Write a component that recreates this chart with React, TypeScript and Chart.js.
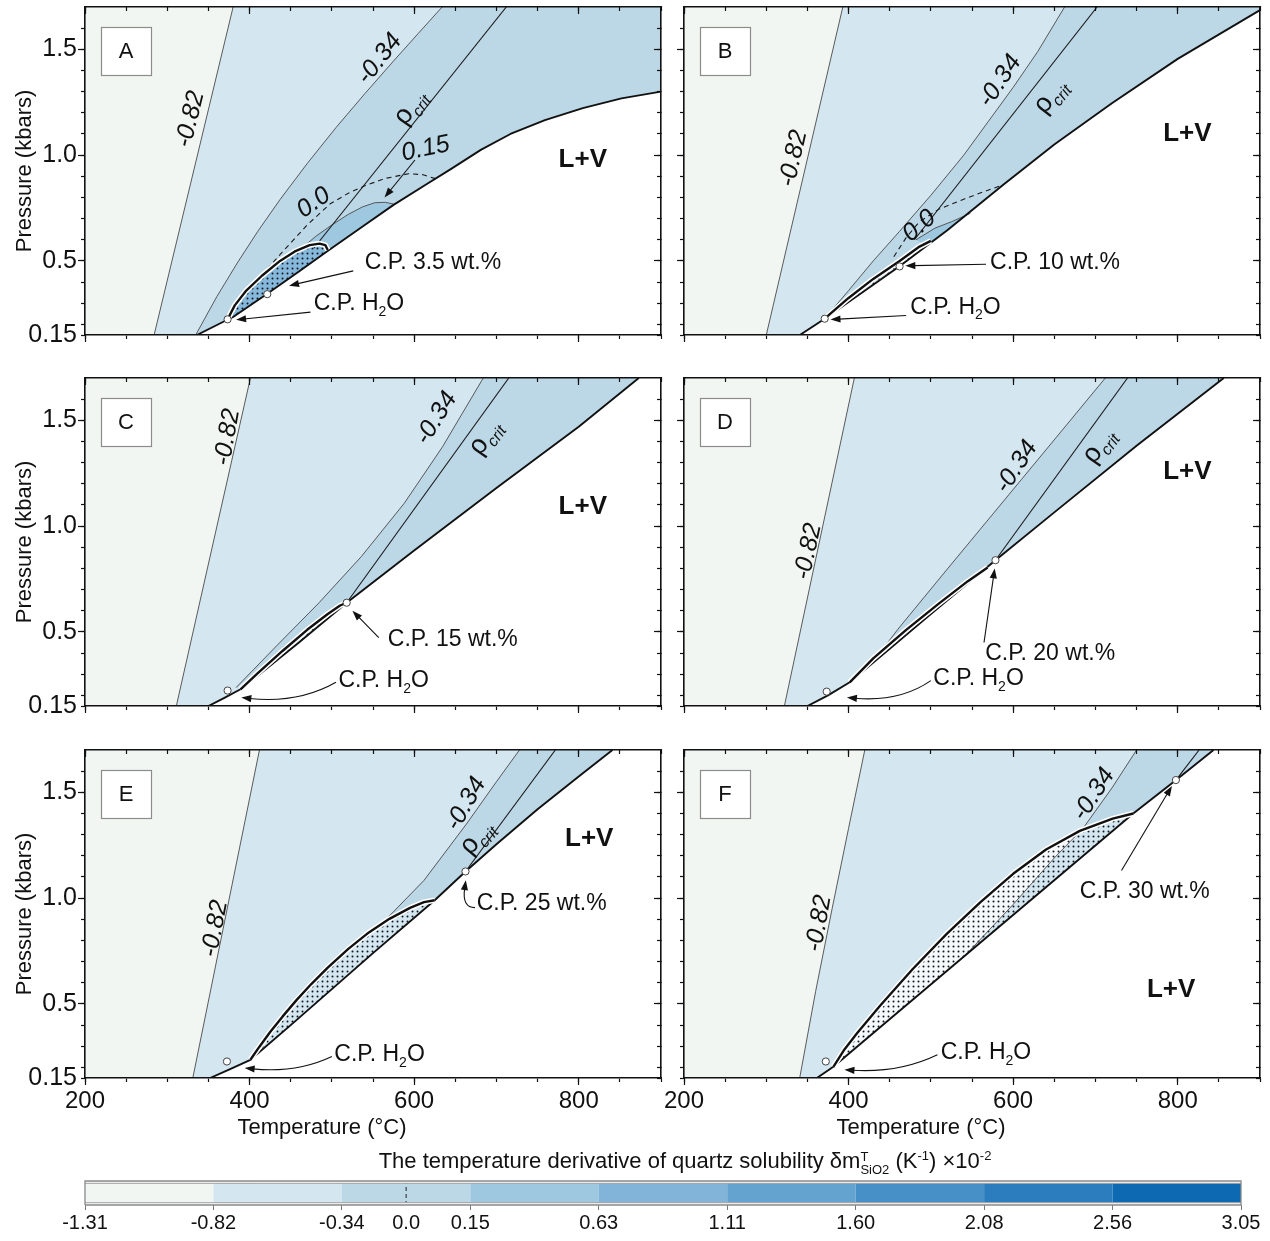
import React, { useEffect, useRef } from 'react';
import { Chart, registerables } from 'chart.js';

Chart.register(...registerables);

type P = [number, number];

const FONT = '"Liberation Sans", Arial, Helvetica, sans-serif';
Chart.defaults.font.family = FONT;

// ---------- axes ----------
const X_MIN = 200;
const X_MAX = 900;
const Y_MIN = 0.15;
const Y_MAX = 1.7;
const X_TICKS = [200, 250, 300, 350, 400, 450, 500, 550, 600, 650, 700, 750, 800, 850, 900];
const X_LABELED = [200, 400, 600, 800];
const Y_TICKS = [0.15, 0.2, 0.3, 0.4, 0.5, 0.6, 0.7, 0.8, 0.9, 1.0, 1.1, 1.2, 1.3, 1.4, 1.5, 1.6];
const Y_MAJOR = [0.5, 1.0, 1.5];
const Y_LABELED = [0.15, 0.5, 1.0, 1.5];
const Y_LABEL_TEXT = ['0.15', '0.5', '1.0', '1.5'];

// ---------- colour scale ----------
const CB_COLORS = ['#f1f6f3', '#d4e6ef', '#bcd7e6', '#9ec7e0', '#82b4d9', '#64a2d0', '#4690c7', '#2b7dbd', '#0d69b1'];
const CB_POS = [0, 1, 2, 2.5, 3, 4, 5, 6, 7, 8, 9];
const CB_LABELS = ['-1.31', '-0.82', '-0.34', '0.0', '0.15', '0.63', '1.11', '1.60', '2.08', '2.56', '3.05'];

// ---------- panel A (T °C, P kbar) ----------
const A_M082: P[] = [[284, 0.15], [332, 0.925], [380, 1.7]];
const A_M034: P[] = [[334.5, 0.15], [360, 0.33], [385, 0.49], [410, 0.64], [437, 0.79], [470, 0.96], [505, 1.13], [540, 1.29], [575, 1.445], [605, 1.575], [634, 1.7]];
const A_RHO: P[] = [[478, 0.56], [712, 1.7]];
const A_BOUND: P[] = [[336, 0.15], [373, 0.222], [380, 0.235], [421.5, 0.345], [460, 0.45], [494, 0.545], [540, 0.67], [575, 0.765], [614, 0.86], [645, 0.935], [681, 1.025], [717, 1.1], [759, 1.165], [805, 1.222], [852, 1.268], [900, 1.3]];
const A_C015: P[] = [[462, 0.555], [480, 0.615], [500, 0.67], [520, 0.72], [537, 0.755], [552, 0.775], [565, 0.777], [576, 0.768]];
const A_C3: P[] = [...A_C015, [540, 0.67], [494, 0.545], [470, 0.5]];
const A_DASH: P[] = [[378, 0.27], [400, 0.365], [437, 0.53], [470, 0.67], [498, 0.77], [520, 0.82], [540, 0.855], [565, 0.89], [593, 0.912], [610, 0.908], [626, 0.889]];
const A_LENS_U: P[] = [[373, 0.222], [382, 0.29], [396, 0.36], [415, 0.43], [437, 0.5], [455, 0.545], [473, 0.575], [485, 0.582], [492, 0.575], [495, 0.552]];
const A_LENS_L: P[] = [[494, 0.545], [460, 0.45], [421.5, 0.345], [380, 0.235], [373, 0.222]];
const A_CP: P[] = [[373.3, 0.224], [421.5, 0.343]];

// ---------- panel B ----------
const B_M082: P[] = [[300, 0.15], [346.5, 0.925], [393, 1.7]];
const B_M034: P[] = [[371, 0.227], [400, 0.36], [430, 0.5], [462, 0.64], [500, 0.81], [540, 1.0], [570, 1.16], [600, 1.32], [630, 1.49], [662.5, 1.7]];
const B_RHO: P[] = [[480, 0.6], [702, 1.7]];
const B_BOUND: P[] = [[340.8, 0.15], [371, 0.227], [420, 0.36], [462, 0.475], [520, 0.645], [588, 0.86], [650, 1.05], [720, 1.245], [800, 1.455], [900, 1.685]];
const B_C015: P[] = [[482, 0.6], [505, 0.655], [525, 0.685], [548, 0.725]];
const B_C3: P[] = [...B_C015, [520, 0.645], [495, 0.57]];
const B_DASH: P[] = [[455, 0.52], [470, 0.61], [486, 0.685], [510, 0.745], [540, 0.792], [565, 0.828], [588, 0.86]];
const B_LENS_U: P[] = [[371, 0.227], [400, 0.325], [430, 0.415], [462, 0.5], [485, 0.565], [500, 0.595]];
const B_LENS_L: P[] = [[500, 0.586], [462, 0.475], [420, 0.36], [371, 0.227]];
const B_CP: P[] = [[371, 0.227], [462, 0.474]];

// ---------- panel C ----------
const C_M082: P[] = [[311, 0.15], [356, 0.925], [401, 1.7]];
const C_M034: P[] = [[383.6, 0.237], [432.8, 0.434], [484.5, 0.638], [536, 0.857], [588, 1.108], [634.5, 1.375], [684, 1.7]];
const C_RHO: P[] = [[518, 0.638], [715, 1.7]];
const C_BOUND: P[] = [[350, 0.15], [370, 0.19], [389, 0.229], [420, 0.325], [460, 0.45], [518, 0.638], [600, 0.885], [700, 1.18], [800, 1.47], [873, 1.7]];
const C_LENS_U: P[] = [[389, 0.229], [410, 0.305], [440, 0.41], [470, 0.51], [495, 0.585], [510, 0.625], [518, 0.638]];
const C_LENS_L: P[] = [[518, 0.638], [460, 0.45], [420, 0.325], [389, 0.229]];
const C_CP: P[] = [[373.3, 0.223], [518, 0.638]];

// ---------- panel D ----------
const D_M082: P[] = [[322, 0.15], [364.5, 0.925], [407, 1.7]];
const D_M034: P[] = [[430, 0.36], [460, 0.513], [510, 0.75], [560, 0.985], [610, 1.22], [660, 1.455], [712, 1.7]];
const D_RHO: P[] = [[578.5, 0.839], [739, 1.7]];
const D_BOUND: P[] = [[350, 0.15], [375, 0.2], [401.4, 0.262], [450, 0.42], [500, 0.585], [578.5, 0.839], [650, 1.065], [750, 1.38], [856, 1.7]];
const D_LENS_U: P[] = [[401.4, 0.262], [430, 0.375], [470, 0.51], [510, 0.635], [545, 0.74], [569, 0.805]];
const D_LENS_L: P[] = [[569, 0.806], [500, 0.585], [450, 0.42], [401.4, 0.262]];
const D_CP: P[] = [[373.4, 0.218], [578.5, 0.839]];

// ---------- panel E ----------
const E_M082: P[] = [[331, 0.15], [371.5, 0.925], [412, 1.7]];
const E_M034: P[] = [[563, 0.888], [612, 1.084], [663.5, 1.35], [700, 1.55], [728, 1.7]];
const E_RHO: P[] = [[662.4, 1.126], [771.6, 1.7]];
const E_BOUND: P[] = [[352, 0.15], [375, 0.19], [401, 0.236], [450, 0.4], [500, 0.57], [550, 0.74], [625, 0.99], [662.4, 1.126], [700, 1.255], [750, 1.42], [800, 1.575], [841, 1.7]];
const E_LENS_U: P[] = [[401, 0.236], [412, 0.298], [425, 0.367], [440, 0.44], [457, 0.518], [475, 0.594], [495, 0.672], [520, 0.76], [545, 0.838], [570, 0.902], [595, 0.954], [612, 0.981], [625, 0.99]];
const E_LENS_L: P[] = [[625, 0.99], [550, 0.74], [500, 0.57], [450, 0.4], [401, 0.236]];
const E_CP: P[] = [[372.5, 0.228], [662.4, 1.126]];

// ---------- panel F ----------
const F_M082: P[] = [[340.6, 0.15], [360, 0.56], [380, 0.95], [400, 1.33], [419.7, 1.7]];
const F_M034: P[] = [[540, 0.722], [600, 0.97], [650, 1.19], [685, 1.33], [720, 1.52], [750, 1.7]];
const F_RHO: P[] = [[797.8, 1.558], [826, 1.7]];
const F_BOUND: P[] = [[361.5, 0.15], [381.5, 0.203], [560, 0.789], [746, 1.4], [798, 1.558], [843.5, 1.7]];
const F_LENS_U: P[] = [[381.5, 0.203], [395, 0.285], [410, 0.36], [438, 0.49], [478, 0.665], [519, 0.83], [560, 0.98], [600, 1.115], [640, 1.23], [681, 1.318], [721, 1.376], [746, 1.4]];
const F_LENS_L: P[] = [[746, 1.4], [560, 0.789], [381.5, 0.203]];
const F_LENS_SUB: P[] = [[540, 0.722], [600, 0.97], [650, 1.19], [685, 1.324], [721, 1.376], [746, 1.4]];
const F_CP: P[] = [[372.3, 0.228], [797.8, 1.558]];

// ---------- layout ----------
const PLOT_W = 576;
const PLOT_H = 328;
const COL_LEFT = [85, 684];
const ROW_TOP = [7, 378, 750];

type Seg = { t: string; sub?: boolean; italic?: boolean };
type Lbl = { segs: Seg[]; x: number; y: number; rot?: number; size: number; italic?: boolean; bold?: boolean; align?: 'left' | 'center' };

const contour = (t: string, x: number, y: number, rot: number): Lbl => ({ segs: [{ t }], x, y, rot, size: 25, italic: true });
const rhoLbl = (x: number, y: number, rot: number): Lbl => ({ segs: [{ t: 'ρ', italic: false }, { t: 'crit', sub: true, italic: true }], x, y, rot, size: 27 });
const lvLbl = (x: number, y: number): Lbl => ({ segs: [{ t: 'L+V' }], x, y, size: 26, bold: true });
const cpLbl = (t: string, x: number, y: number): Lbl => ({ segs: [{ t }], x, y, size: 23, align: 'left' });
const h2oLbl = (x: number, y: number): Lbl => ({ segs: [{ t: 'C.P. H' }, { t: '2', sub: true }, { t: 'O' }], x, y, size: 23, align: 'left' });

interface Spec {
  letter: string; col: number; row: number;
  m082: P[]; m034: P[]; rho: P[]; boundary: P[]; lensU: P[]; lensL: P[]; cp: P[];
  dash?: P[]; c015?: P[]; c3?: P[]; lensFill: string; lensSub?: P[];
  labels: Lbl[]; arrows: P[][];
}

const PANELS: Spec[] = [
  {
    letter: 'A', col: 0, row: 0, m082: A_M082, m034: A_M034, rho: A_RHO, boundary: A_BOUND, lensU: A_LENS_U, lensL: A_LENS_L, cp: A_CP,
    dash: A_DASH, c015: A_C015, c3: A_C3, lensFill: '#86b8dc',
    labels: [contour('-0.82', 328, 1.17, -76), contour('-0.34', 558, 1.455, -52), rhoLbl(595, 1.227, -55), contour('0.15', 614, 1.03, -12),
      contour('0.0', 478, 0.775, -35), lvLbl(805, 0.977), cpLbl('C.P. 3.5 wt.%', 540, 0.492), h2oLbl(478, 0.297)],
    arrows: [[[526, 0.453], [448, 0.383]], [[474, 0.258], [383.6, 0.222]], [[601, 0.977], [564, 0.8]]],
  },
  {
    letter: 'B', col: 1, row: 0, m082: B_M082, m034: B_M034, rho: B_RHO, boundary: B_BOUND, lensU: B_LENS_U, lensL: B_LENS_L, cp: B_CP,
    dash: B_DASH, c015: B_C015, c3: B_C3, lensFill: CB_COLORS[1],
    labels: [contour('-0.82', 333, 0.984, -77), contour('-0.34', 584, 1.35, -56), rhoLbl(645, 1.28, -52), contour('0.0', 486, 0.665, -40),
      lvLbl(811.7, 1.1), cpLbl('C.P. 10 wt.%', 572, 0.492), h2oLbl(475, 0.281)],
    arrows: [[[567, 0.484], [469, 0.477]], [[470, 0.242], [378, 0.223]]],
  },
  {
    letter: 'C', col: 0, row: 1, m082: C_M082, m034: C_M034, rho: C_RHO, boundary: C_BOUND, lensU: C_LENS_U, lensL: C_LENS_L, cp: C_CP,
    lensFill: CB_COLORS[1],
    labels: [contour('-0.82', 373, 1.42, -80), contour('-0.34', 627, 1.51, -58), rhoLbl(686, 1.42, -55), lvLbl(805, 1.09),
      cpLbl('C.P. 15 wt.%', 568, 0.462), h2oLbl(508, 0.27)],
    arrows: [[[557, 0.473], [525, 0.6]], [[505, 0.262], [458.7, 0.16], [390, 0.19]]],
  },
  {
    letter: 'D', col: 1, row: 1, m082: D_M082, m034: D_M034, rho: D_RHO, boundary: D_BOUND, lensU: D_LENS_U, lensL: D_LENS_L, cp: D_CP,
    lensFill: CB_COLORS[1],
    labels: [contour('-0.82', 351, 0.88, -78), contour('-0.34', 604, 1.28, -57), rhoLbl(704, 1.38, -55), lvLbl(811.7, 1.257),
      cpLbl('C.P. 20 wt.%', 566, 0.395), h2oLbl(503, 0.278)],
    arrows: [[[564.6, 0.45], [577.6, 0.8]], [[500, 0.27], [462, 0.168], [398, 0.19]]],
  },
  {
    letter: 'E', col: 0, row: 2, m082: E_M082, m034: E_M034, rho: E_RHO, boundary: E_BOUND, lensU: E_LENS_U, lensL: E_LENS_L, cp: E_CP,
    lensFill: CB_COLORS[1],
    labels: [contour('-0.82', 358, 0.856, -79), contour('-0.34', 663, 1.445, -60), rhoLbl(676, 1.288, -50), lvLbl(812.8, 1.28),
      cpLbl('C.P. 25 wt.%', 676, 0.974), h2oLbl(503, 0.26)],
    arrows: [[[674, 0.955], [658, 0.955], [662.8, 1.085]], [[500, 0.252], [457.5, 0.173], [394, 0.197]]],
  },
  {
    letter: 'F', col: 1, row: 2, m082: F_M082, m034: F_M034, rho: F_RHO, boundary: F_BOUND, lensU: F_LENS_U, lensL: F_LENS_L, cp: F_CP,
    lensFill: '#f4f8fa', lensSub: F_LENS_SUB,
    labels: [contour('-0.82', 364, 0.88, -80), contour('-0.34', 698, 1.49, -57), lvLbl(792, 0.566),
      cpLbl('C.P. 30 wt.%', 681, 1.029), h2oLbl(512, 0.268)],
    arrows: [[[731.7, 1.131], [793, 1.53]], [[508, 0.26], [461.6, 0.173], [395, 0.189]]],
  },
];

// ---------- drawing helpers ----------
function drawRich(ctx: CanvasRenderingContext2D, l: Lbl, px: number, py: number) {
  ctx.save();
  ctx.translate(px, py);
  if (l.rot) ctx.rotate((l.rot * Math.PI) / 180);
  const fontOf = (s: Seg) => {
    const it = s.italic !== undefined ? s.italic : l.italic;
    const size = s.sub ? Math.round(l.size * 0.6) : l.size;
    return `${it ? 'italic ' : ''}${l.bold ? 'bold ' : ''}${size}px ${FONT}`;
  };
  let w = 0;
  for (const s of l.segs) {
    ctx.font = fontOf(s);
    w += ctx.measureText(s.t).width;
  }
  let x = l.align === 'left' ? 0 : -w / 2;
  ctx.textBaseline = 'middle';
  ctx.textAlign = 'left';
  ctx.fillStyle = '#111';
  for (const s of l.segs) {
    ctx.font = fontOf(s);
    ctx.fillText(s.t, x, s.sub ? l.size * 0.36 : 0);
    x += ctx.measureText(s.t).width;
  }
  ctx.restore();
}

function drawArrow(ctx: CanvasRenderingContext2D, p: number[][]) {
  const end = p[p.length - 1];
  const prev = p.length === 3 ? p[1] : p[0];
  const ang = Math.atan2(end[1] - prev[1], end[0] - prev[0]);
  const L = 10;
  const W = 3.6;
  const bx = end[0] - (L - 2) * Math.cos(ang);
  const by = end[1] - (L - 2) * Math.sin(ang);
  ctx.beginPath();
  ctx.moveTo(p[0][0], p[0][1]);
  if (p.length === 3) ctx.quadraticCurveTo(p[1][0], p[1][1], bx, by);
  else ctx.lineTo(bx, by);
  ctx.stroke();
  ctx.beginPath();
  ctx.moveTo(end[0], end[1]);
  ctx.lineTo(end[0] - L * Math.cos(ang) + W * Math.sin(ang), end[1] - L * Math.sin(ang) - W * Math.cos(ang));
  ctx.lineTo(end[0] - L * Math.cos(ang) - W * Math.sin(ang), end[1] - L * Math.sin(ang) + W * Math.cos(ang));
  ctx.closePath();
  ctx.fill();
}

const toXY = (p: P[]) => p.map(([x, y]) => ({ x, y }));

function buildDatasets(s: Spec, pattern: any) {
  const ds: any[] = [];
  const poly = (p: P[], color: any) => ds.push({ data: toXY(p), fill: 'shape', backgroundColor: color, borderWidth: 0, pointRadius: 0 });
  const line = (p: P[], color: string, width: number, dash: number[] = []) =>
    ds.push({ data: toXY(p), fill: false, borderColor: color, borderWidth: width, borderDash: dash, pointRadius: 0 });

  poly([[X_MIN, Y_MIN], [X_MIN, Y_MAX], [X_MAX, Y_MAX], [X_MAX, Y_MIN]], CB_COLORS[0]);
  poly([...s.m082, [X_MAX, Y_MAX], [X_MAX, Y_MIN]], CB_COLORS[1]);
  poly([...s.m034, [X_MAX, Y_MAX], [X_MAX, Y_MIN]], CB_COLORS[2]);
  if (s.c3) poly(s.c3, CB_COLORS[3]);
  const last = s.boundary[s.boundary.length - 1];
  const tail: P[] = last[0] < X_MAX ? [[X_MAX, Y_MAX], [X_MAX, Y_MIN]] : [[X_MAX, Y_MIN]];
  poly([...s.boundary, ...tail], '#ffffff');
  const lens = [...s.lensU, ...s.lensL];
  poly(lens, s.lensFill);
  if (s.lensSub) poly(s.lensSub, CB_COLORS[1]);
  poly(lens, pattern);
  line(s.m082, '#4a4a4a', 0.9);
  line(s.m034, '#4a4a4a', 0.9);
  if (s.c015) line(s.c015, '#4a4a4a', 0.9);
  line(s.rho, '#1a1a1a', 1.1);
  if (s.dash) line(s.dash, '#1a1a1a', 1.1, [5, 4]);
  line(s.boundary, '#111111', 1.9);
  line(s.lensU, '#ffffff', 5.5);
  line(s.lensU, '#111111', 2.4);
  ds.push({ data: toXY(s.cp), showLine: false, pointRadius: 3.6, pointBackgroundColor: '#ffffff', pointBorderColor: '#444', pointBorderWidth: 1 });
  const n = ds.length;
  ds.forEach((d, i) => { d.order = n - i; });
  return ds;
}

function zeroPad(sc: any) {
  sc.paddingLeft = 0; sc.paddingRight = 0; sc.paddingTop = 0; sc.paddingBottom = 0;
}

const GRID_BASE = { display: true, drawOnChartArea: false, drawTicks: true, tickColor: '#111', tickWidth: 1.2, z: 2 };

function xAxis(position: string, labels: boolean, size: number) {
  return {
    type: 'linear', position, min: X_MIN, max: X_MAX,
    afterBuildTicks: (sc: any) => { sc.ticks = X_TICKS.map((v) => ({ value: v })); },
    afterFit: (sc: any) => { sc.height = size; zeroPad(sc); },
    ticks: {
      display: labels, autoSkip: false, maxRotation: 0, minRotation: 0, padding: 5, color: '#111',
      font: { family: FONT, size: 24 },
      callback: (v: number) => (X_LABELED.includes(v) ? String(v) : ''),
    },
    grid: { ...GRID_BASE, tickLength: position === 'top' ? -4 : 4 },
    border: { display: true, color: '#111', width: 1.6, z: 2 },
  };
}

function yAxis(position: string, labels: boolean, size: number, title: boolean) {
  return {
    type: 'linear', position, min: Y_MIN, max: Y_MAX,
    afterBuildTicks: (sc: any) => { sc.ticks = Y_TICKS.map((v) => ({ value: v })); },
    afterFit: (sc: any) => { sc.width = size; zeroPad(sc); },
    ticks: {
      display: labels, autoSkip: false, padding: 4, color: '#111',
      font: { family: FONT, size: 25 },
      callback: (v: number) => {
        const i = Y_LABELED.findIndex((u) => Math.abs(u - v) < 1e-6);
        return i >= 0 ? Y_LABEL_TEXT[i] : '';
      },
    },
    grid: { ...GRID_BASE, tickLength: position === 'right' ? -4 : 4 },
    border: { display: true, color: '#111', width: 1.6, z: 2 },
    title: { display: title, text: 'Pressure (kbars)', color: '#111', font: { family: FONT, size: 22 }, padding: { top: 12, bottom: 0 } },
  };
}

// longer major tick marks, drawn by axes pinned onto the frame edges
function majorX(yv: number) {
  return {
    type: 'linear', axis: 'x', position: { y: yv }, min: X_MIN, max: X_MAX,
    afterBuildTicks: (sc: any) => { sc.ticks = X_LABELED.map((v) => ({ value: v })); },
    afterFit: (sc: any) => { sc.height = 0; zeroPad(sc); },
    ticks: { display: false },
    grid: { ...GRID_BASE, tickLength: 7 },
    border: { display: false },
  };
}
function majorY(xv: number) {
  return {
    type: 'linear', axis: 'y', position: { x: xv }, min: Y_MIN, max: Y_MAX,
    afterBuildTicks: (sc: any) => { sc.ticks = Y_MAJOR.map((v) => ({ value: v })); },
    afterFit: (sc: any) => { sc.width = 0; zeroPad(sc); },
    ticks: { display: false },
    grid: { ...GRID_BASE, tickLength: 7 },
    border: { display: false },
  };
}

function annotPlugin(s: Spec, showXTitle: boolean) {
  return {
    id: 'annot' + s.letter,
    afterDraw(chart: any) {
      const ctx: CanvasRenderingContext2D = chart.ctx;
      const xs = chart.scales.x;
      const ys = chart.scales.y;
      const a = chart.chartArea;
      const px = (x: number) => xs.getPixelForValue(x);
      const py = (y: number) => ys.getPixelForValue(y);
      ctx.save();
      ctx.strokeStyle = '#111';
      ctx.fillStyle = '#111';
      ctx.lineWidth = 1.1;
      for (const ar of s.arrows) drawArrow(ctx, ar.map(([x, y]) => [px(x), py(y)]));
      for (const l of s.labels) drawRich(ctx, l, px(l.x), py(l.y));
      const bx = a.left + 16;
      const by = a.top + 20;
      ctx.fillStyle = '#ffffff';
      ctx.fillRect(bx, by, 50, 48);
      ctx.strokeStyle = '#8c8c8c';
      ctx.lineWidth = 1.2;
      ctx.strokeRect(bx + 0.5, by + 0.5, 50, 48);
      ctx.fillStyle = '#111';
      ctx.font = `22px ${FONT}`;
      ctx.textAlign = 'center';
      ctx.textBaseline = 'middle';
      ctx.fillText(s.letter, bx + 25, by + 25);
      if (showXTitle) {
        ctx.font = `22px ${FONT}`;
        ctx.fillText('Temperature (°C)', a.left + 237, a.bottom + 50);
      }
      ctx.restore();
    },
  };
}

function makePattern() {
  const pc = document.createElement('canvas');
  pc.width = 5;
  pc.height = 5;
  const g = pc.getContext('2d')!;
  g.fillStyle = '#0f1620';
  g.beginPath();
  g.arc(2.5, 2.5, 1.0, 0, Math.PI * 2);
  g.fill();
  return g.createPattern(pc, 'repeat');
}

function Panel({ spec }: { spec: Spec }) {
  const ref = useRef<HTMLCanvasElement>(null);
  const L = spec.col === 0 ? 85 : 28;
  const R = 6;
  const T = 6;
  const B = spec.row === 2 ? 72 : 10;
  const left = COL_LEFT[spec.col] - L;
  const top = ROW_TOP[spec.row] - T;
  const w = L + PLOT_W + R;
  const h = T + PLOT_H + B;
  useEffect(() => {
    const pattern = makePattern();
    const chart = new Chart(ref.current!, {
      type: 'line',
      data: { datasets: buildDatasets(spec, pattern) },
      options: {
        responsive: false,
        animation: false,
        devicePixelRatio: 1,
        events: [],
        layout: { padding: 0 },
        plugins: { legend: { display: false }, tooltip: { enabled: false } },
        elements: { line: { tension: 0, borderJoinStyle: 'round' }, point: { radius: 0 } },
        scales: {
          x: xAxis('bottom', spec.row === 2, B),
          x2: xAxis('top', false, T),
          y: yAxis('left', spec.col === 0, L, spec.col === 0),
          y2: yAxis('right', false, R, false),
          xMajB: majorX(Y_MIN),
          xMajT: majorX(Y_MAX),
          yMajL: majorY(X_MIN),
          yMajR: majorY(X_MAX),
        },
      } as any,
      plugins: [annotPlugin(spec, spec.row === 2)],
    } as any);
    return () => chart.destroy();
  }, []);
  return <canvas ref={ref} width={w} height={h} style={{ position: 'absolute', left, top, width: w, height: h }} />;
}

function ColorBar() {
  const ref = useRef<HTMLCanvasElement>(null);
  const left = 55;
  const top = 1175;
  const w = 1215;
  const h = 65;
  useEffect(() => {
    const ds: any[] = CB_COLORS.map((c, i) => ({
      data: toXY([[i, 0], [i + 1, 0], [i + 1, 1], [i, 1]]),
      fill: 'shape', backgroundColor: c, borderWidth: 0, pointRadius: 0,
    }));
    ds.push({ data: toXY([[2.5, 0], [2.5, 1]]), fill: false, borderColor: '#222', borderWidth: 1, borderDash: [4, 3], pointRadius: 0 });
    ds.push({ data: toXY([[0, 0.955], [9, 0.955]]), fill: false, borderColor: '#f2f2f2', borderWidth: 2, pointRadius: 0 });
    ds.push({ data: toXY([[0, 0.045], [9, 0.045]]), fill: false, borderColor: '#f2f2f2', borderWidth: 2, pointRadius: 0 });
    ds.push({ data: toXY([[0, 0.9], [9, 0.9]]), fill: false, borderColor: '#a8a8a8', borderWidth: 1, pointRadius: 0 });
    ds.push({ data: toXY([[0, 0.1], [9, 0.1]]), fill: false, borderColor: '#a8a8a8', borderWidth: 1, pointRadius: 0 });
    ds.push({ data: toXY([[0, 0], [9, 0], [9, 1], [0, 1], [0, 0]]), fill: false, borderColor: '#8a8a8a', borderWidth: 1.3, pointRadius: 0, clip: false });
    const n = ds.length;
    ds.forEach((d, i) => { d.order = n - i; });
    const chart = new Chart(ref.current!, {
      type: 'line',
      data: { datasets: ds },
      options: {
        responsive: false,
        animation: false,
        devicePixelRatio: 1,
        events: [],
        layout: { padding: { left: 30, right: 29, top: 6, bottom: 0 } },
        plugins: { legend: { display: false }, tooltip: { enabled: false } },
        elements: { line: { tension: 0 }, point: { radius: 0 } },
        scales: {
          x: {
            type: 'linear', min: 0, max: 9,
            afterBuildTicks: (sc: any) => { sc.ticks = CB_POS.map((v) => ({ value: v })); },
            afterFit: (sc: any) => { sc.height = 35; zeroPad(sc); },
            ticks: {
              autoSkip: false, maxRotation: 0, padding: 1, color: '#111', font: { family: FONT, size: 20 },
              callback: (v: number) => { const i = CB_POS.indexOf(v); return i >= 0 ? CB_LABELS[i] : ''; },
            },
            grid: {
              drawOnChartArea: false, drawTicks: true, tickLength: 5, tickWidth: 1,
              tickColor: (c: any) => (c.tick && c.tick.value === 2.5 ? 'rgba(0,0,0,0)' : '#777'),
            },
            border: { display: false },
          },
          y: { type: 'linear', min: 0, max: 1, display: false },
        },
      } as any,
    } as any);
    return () => chart.destroy();
  }, []);
  return <canvas ref={ref} width={w} height={h} style={{ position: 'absolute', left, top, width: w, height: h }} />;
}

export default function App() {
  const small = { fontSize: 13 };
  return (
    <div style={{ position: 'absolute', left: 0, top: 0, width: 1270, height: 1241, background: '#ffffff', fontFamily: FONT, color: '#111' }}>
      {PANELS.map((p) => (
        <Panel key={p.letter} spec={p} />
      ))}
      <div style={{ position: 'absolute', left: 235, width: 900, top: 1142, textAlign: 'center', fontSize: 22, lineHeight: '28px', whiteSpace: 'nowrap' }}>
        The temperature derivative of quartz solubility δm
        <span style={{ display: 'inline-flex', flexDirection: 'column', verticalAlign: 'middle', fontSize: 13, lineHeight: '13px', textAlign: 'left' }}>
          <span>T</span>
          <span>SiO2</span>
        </span>{' '}
        (K<sup style={small}>-1</sup>) ×10<sup style={small}>-2</sup>
      </div>
      <ColorBar />
    </div>
  );
}
